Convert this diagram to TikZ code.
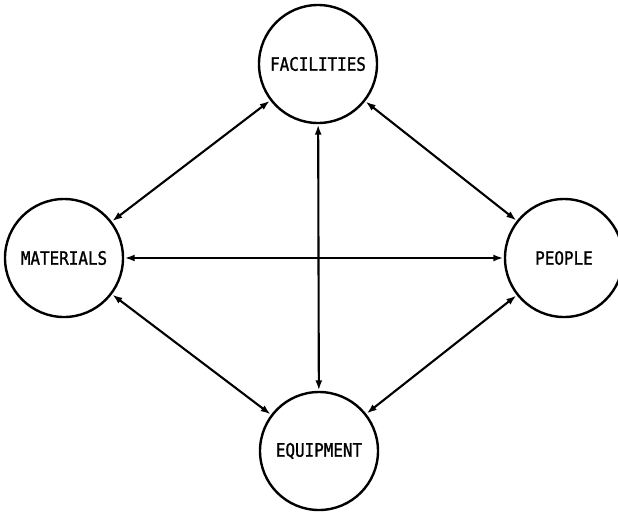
\documentclass[tikz,border=0pt]{standalone}
\usepackage{fontspec}
\newfontfamily\labelfont[FakeStretch=0.86,FakeBold=1.2]{DejaVu Sans Mono}
\usetikzlibrary{arrows.meta}
\begin{document}
\begin{tikzpicture}[x=1pt,y=-1pt,
  entity/.style={draw,circle,line width=2.4pt,minimum size=118pt,inner sep=0pt,
    font=\labelfont\fontsize{18.5}{20}\selectfont},
  link/.style={line width=2.1pt,{Latex[length=10pt,width=7pt]}-{Latex[length=10pt,width=7pt]},shorten <=0.5pt,shorten >=0.5pt}]
\useasboundingbox (0,0) rectangle (618,512);
\node[entity] (fac) at (318,64) {FACILITIES};
\node[entity] (mat) at (64,258) {MATERIALS};
\node[entity] (peo) at (564,258) {PEOPLE};
\node[entity] (equ) at (319,451) {EQUIPMENT};
\draw[link] (fac) -- (mat);
\draw[link] (fac) -- (peo);
\draw[link] (fac) -- (equ);
\draw[link] (mat) -- (peo);
\draw[link] (mat) -- (equ);
\draw[link] (peo) -- (equ);
\end{tikzpicture}
\end{document}
